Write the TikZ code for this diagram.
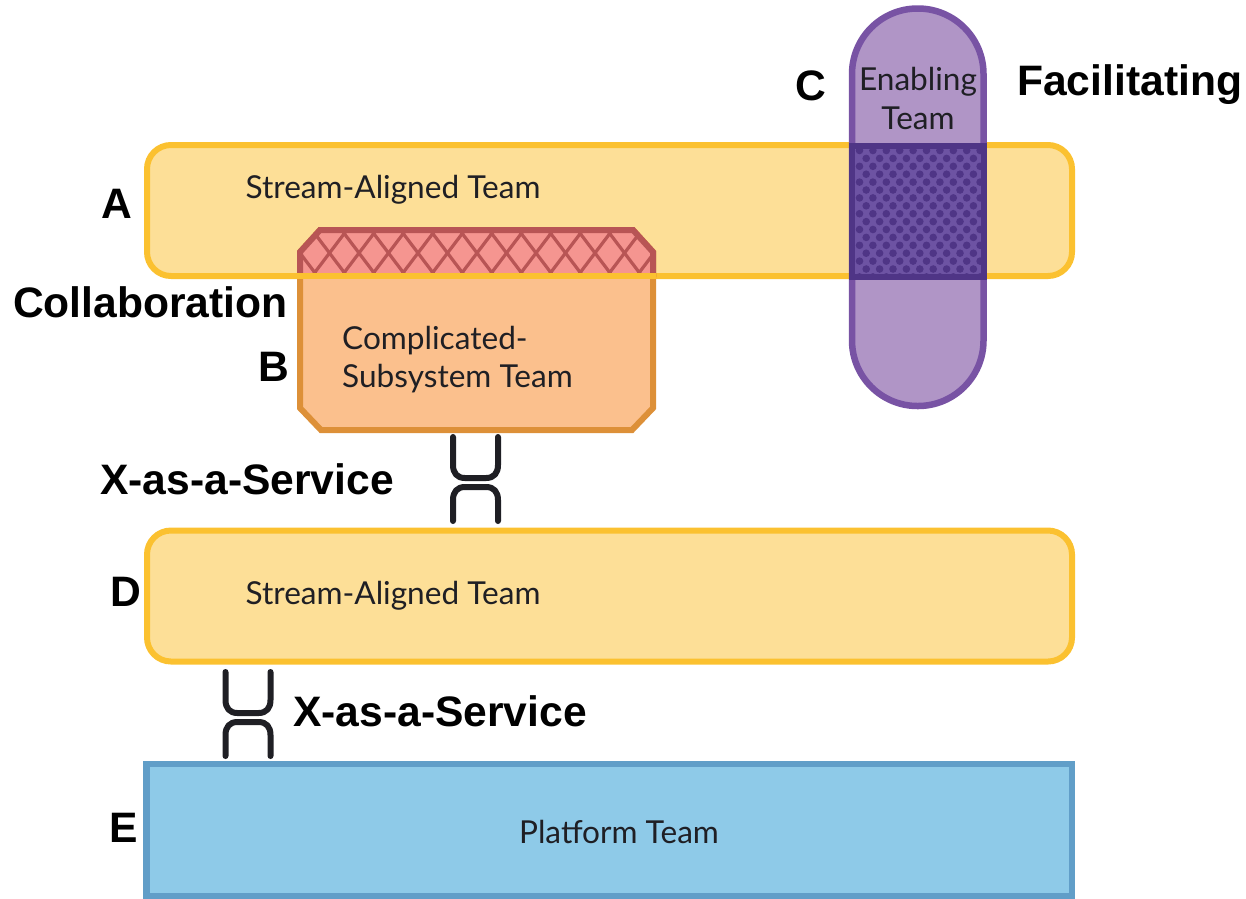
\documentclass[tikz,border=0pt]{standalone}
\usepackage{fontspec}
\setmainfont{Liberation Sans}
\newfontfamily\teamfont{Lato}
\definecolor{yfill}{HTML}{FDDF97}
\definecolor{ystroke}{HTML}{FBC130}
\definecolor{ofill}{HTML}{FBC08D}
\definecolor{ostroke}{HTML}{DD9038}
\definecolor{pfill}{HTML}{F59590}
\definecolor{pstroke}{HTML}{B85555}
\definecolor{vfill}{HTML}{B095C6}
\definecolor{vstroke}{HTML}{7853A4}
\definecolor{vdark}{HTML}{4F3586}
\definecolor{vmid}{HTML}{6D53A3}
\definecolor{bfill}{HTML}{8ECAE8}
\definecolor{bstroke}{HTML}{619EC8}
\definecolor{ink}{HTML}{1F1F24}
\tikzset{
  x=1pt,y=-1pt,
  teambox/.style={draw=ystroke,fill=yfill,line width=6pt,rounded corners=24pt,minimum width=925pt,minimum height=131pt,inner sep=0pt,outer sep=0pt},
  teamtext/.style={font=\teamfont\fontsize{31.6}{38}\selectfont,text=ink,inner sep=0pt,align=left},
  tag/.style={font=\bfseries\fontsize{42.6}{42}\selectfont,text=black,inner sep=0pt},
  socket/.style={draw=ink,line width=6pt,line cap=round,line join=round},
}
\newcommand{\xaas}[3]{%
  \draw[socket] (#2,#3) -- (#2,#3+28) .. controls (#2,#3+36) and (#2+4,#3+41) .. (#2+12,#3+41) -- (#2+33,#3+41) .. controls (#2+41,#3+41) and (#2+45,#3+36) .. (#2+45,#3+28) -- (#2+45,#3);
  \draw[socket] (#2,#3+84) -- (#2,#3+63) .. controls (#2,#3+55) and (#2+4,#3+50) .. (#2+12,#3+50) -- (#2+33,#3+50) .. controls (#2+41,#3+50) and (#2+45,#3+55) .. (#2+45,#3+63) -- (#2+45,#3+84);
}
\begin{document}
\begin{tikzpicture}
\useasboundingbox (0,0) rectangle (1246,898);
% A
\node[teambox] (streamA) at (609.5,210.5) {};
% B
\path[fill=ofill,draw=ostroke,line width=6pt,line join=miter] (300,252) -- (320,230) -- (633,230) -- (653,252) -- (653,408) -- (632,430) -- (321,430) -- (300,408) -- cycle;
% pink overlap
\begin{scope}
  \clip (290,220) rectangle (665,276);
  \path[fill=pfill,draw=pstroke,line width=6pt] (300,252) -- (320,230) -- (633,230) -- (653,252) -- (653,408) -- (632,430) -- (321,430) -- (300,408) -- cycle;
  \clip (303,253) -- (321,233) -- (632,233) -- (650,253) -- (650,276) -- (303,276) -- cycle;
  \foreach \k in {-1,...,13} {
    \draw[pstroke,line width=3.2pt] (300+\k*29.5-25,220) -- (300+\k*29.5+28,290);
    \draw[pstroke,line width=3.2pt] (300+\k*29.5+25,220) -- (300+\k*29.5-28,290);
  }
\end{scope}
\draw[ystroke,line width=6pt] (297,276) -- (656,276);
% C pill
\path[fill=vfill,draw=vstroke,line width=6.5pt,rounded corners=65.5pt] (852,8.5) rectangle (983.5,406);
\fill[vmid] (849,143) rectangle (986.5,279);
\begin{scope}
  \clip (849,143) rectangle (986.5,279);
  \foreach \r in {0,...,16} {
    \pgfmathsetmacro{\off}{mod(\r,2)*6.7}
    \foreach \c in {0,...,11} {
      \fill[vdark] (859.5+\off+\c*13.4,150.5+\r*7.9) circle (3.8pt);
    }
  }
\end{scope}
\draw[vdark,line width=6pt] (851.5,145.5) rectangle (983.5,276.5);
% D
\node[teambox] (streamD) at (609.5,596) {};
% E
\draw[fill=bfill,draw=bstroke,line width=6.5pt] (146.5,764) rectangle (1072,896);
\node[inner sep=0pt,minimum width=925pt,minimum height=132pt] (platform) at (609.5,830) {};
% sockets
\xaas{s1}{453}{437}
\xaas{s2}{225.5}{672}
% team texts
\node[teamtext] (ta) at (393,190) {Stream-Aligned Team};
\node[teamtext] (td) at (393,596) {Stream-Aligned Team};
\node[teamtext] (tp) at (619,832) {Platform Team};
\node[teamtext,anchor=west] (tb1) at (342,341) {Complicated-};
\node[teamtext,anchor=west] (tb2) at (342,379) {Subsystem Team};
\node[teamtext] (tc1) at (918,82) {Enabling};
\node[teamtext] (tc2) at (918,118) {Team};
% tags
\node[tag] (la) at (117,204) {A};
\node[tag] (lb) at (274,367) {B};
\node[tag] (lc) at (811,86) {C};
\node[tag] (ld) at (126,592) {D};
\node[tag] (le) at (124,828) {E};
\node[tag,anchor=west] (lcol) at (13,302) {Collaboration};
\node[tag,anchor=west] (lfac) at (1017,85) {Facilitating};
\node[tag,anchor=west] (lx1) at (100,479) {X-as-a-Service};
\node[tag,anchor=west] (lx2) at (293,711) {X-as-a-Service};
\end{tikzpicture}
\end{document}
